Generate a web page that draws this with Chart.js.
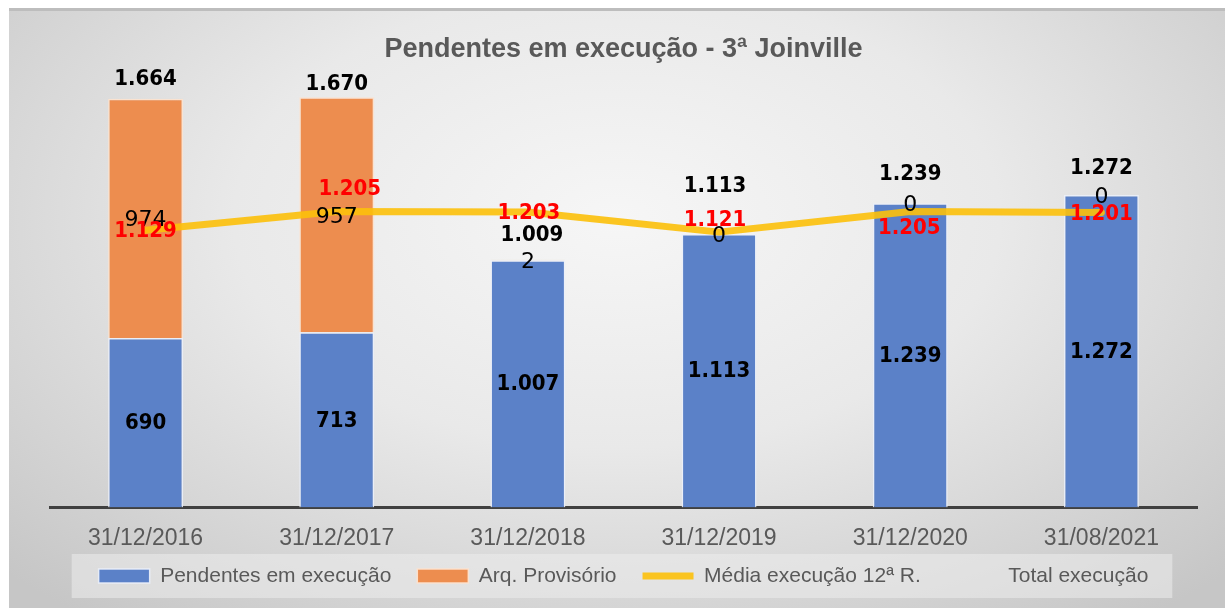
<!DOCTYPE html>
<html>
<head>
<meta charset="utf-8">
<script src="https://cdn.jsdelivr.net/npm/chart.js@4/dist/chart.umd.min.js"></script>
<style>
  html, body { margin: 0; padding: 0; background: #ffffff; width: 1225px; height: 608px; overflow: hidden; }
  #wrap { position: absolute; left: 9px; top: 8px; width: 1216px; height: 600px;
    background: radial-gradient(ellipse 70% 85% at 50% 35%, #f6f6f6 0%, #e9e9e9 45%, #c6c6c6 100%); }
  #band { position: absolute; left: 0; top: 0; width: 1216px; height: 3px; background: #bdbdbd; }
  canvas { position: absolute; left: 0; top: 0; }
</style>
</head>
<body>
<div id="wrap">
  <div id="band"></div>
  <canvas id="c" width="1216" height="600"></canvas>
</div>
<script>
const categories = ['31/12/2016', '31/12/2017', '31/12/2018', '31/12/2019', '31/12/2020', '31/08/2021'];
const pendentes = [690, 713, 1007, 1113, 1239, 1272];
const arqProvisorio = [974, 957, 2, 0, 0, 0];
const mediaExecucao = [1129, 1205, 1203, 1121, 1205, 1201];
const totalExecucao = [1664, 1670, 1009, 1113, 1239, 1272];
const seriesNames = ['Pendentes em execução', 'Arq. Provisório', 'Média execução 12ª R.', 'Total execução'];
const chartTitle = 'Pendentes em execução - 3ª Joinville';

// label placement tweaks (pixels), mimicking manually moved labels of the original
const mediaLabelShift = [[0, 1], [13, -22], [1, 1], [-4, -12], [-1, 17], [0, 2]];
const totalLabelShift = [[0, -20], [0, -13], [4, -24], [-4, -48], [0, -29], [0, -27]];

const fmt = v => v.toLocaleString('pt-BR');
const BOLD_FONT = 'bold 22px "DejaVu Sans Condensed", "DejaVu Sans"';
const REG_FONT = '22px "DejaVu Sans"';

const labelPlugin = {
  id: 'valueLabels',
  afterDatasetsDraw(chart) {
    const ctx = chart.ctx;
    ctx.save();
    ctx.textAlign = 'center';
    ctx.textBaseline = 'middle';
    chart.getDatasetMeta(0).data.forEach((el, i) => {
      ctx.font = BOLD_FONT;
      ctx.fillStyle = '#000000';
      ctx.fillText(fmt(pendentes[i]), el.x, (el.y + el.base) / 2 + 1);
    });
    chart.getDatasetMeta(1).data.forEach((el, i) => {
      ctx.font = REG_FONT;
      ctx.fillStyle = '#000000';
      ctx.fillText(fmt(arqProvisorio[i]), el.x, (el.y + el.base) / 2 + 2);
    });
    chart.getDatasetMeta(3).data.forEach((el, i) => {
      ctx.font = BOLD_FONT;
      ctx.fillStyle = '#000000';
      ctx.fillText(fmt(totalExecucao[i]), el.x + totalLabelShift[i][0], el.y + totalLabelShift[i][1]);
    });
    chart.getDatasetMeta(2).data.forEach((el, i) => {
      ctx.font = BOLD_FONT;
      ctx.fillStyle = '#ff0000';
      ctx.fillText(fmt(mediaExecucao[i]), el.x + mediaLabelShift[i][0], el.y + mediaLabelShift[i][1]);
    });
    ctx.restore();
  }
};

const LEGEND_TOP = 531.5;
const legendBoxPlugin = {
  id: 'legendBox',
  afterLayout(chart) {
    const lg = chart.legend;
    if (lg) { const dy = lg.top - LEGEND_TOP; lg.top -= dy; lg.bottom -= dy; }
  },
  beforeDraw(chart) {
    const lg = chart.legend;
    if (!lg || !lg.legendHitBoxes || !lg.legendHitBoxes.length) return;
    const hb = lg.legendHitBoxes;
    const left = hb[0].left - 27;
    const last = hb[hb.length - 1];
    const right = last.left + last.width + 24;
    const cy = hb[0].top + hb[0].height / 2;
    const ctx = chart.ctx;
    ctx.save();
    ctx.fillStyle = 'rgba(236,236,236,0.55)';
    ctx.fillRect(left, cy - 22, right - left, 44);
    ctx.restore();
  }
};

new Chart(document.getElementById('c'), {
  data: {
    labels: categories,
    datasets: [
      { type: 'bar', label: seriesNames[0], data: pendentes, backgroundColor: '#5b81c8',
        borderColor: 'rgba(235,240,250,0.9)', borderWidth: 1.5, stack: 'bars', order: 2,
        barPercentage: 1, categoryPercentage: 0.392, pointStyle: 'rect' },
      { type: 'bar', label: seriesNames[1], data: arqProvisorio, backgroundColor: '#ed8d4f',
        borderColor: 'rgba(252,225,205,0.95)', borderWidth: 1.5, stack: 'bars', order: 2,
        barPercentage: 1, categoryPercentage: 0.392, pointStyle: 'rect' },
      { type: 'line', label: seriesNames[2], data: mediaExecucao, borderColor: 'rgba(252,192,10,0.9)',
        backgroundColor: 'rgba(252,192,10,0.9)', borderWidth: 7, tension: 0, pointRadius: 0,
        borderCapStyle: 'round', borderJoinStyle: 'round', stack: 'media', order: 1, pointStyle: 'line' },
      { type: 'line', label: seriesNames[3], data: totalExecucao, showLine: false, pointRadius: 0,
        borderColor: 'rgba(0,0,0,0)', backgroundColor: 'rgba(0,0,0,0)', borderWidth: 0,
        stack: 'total', order: 0, pointStyle: 'line' }
    ]
  },
  options: {
    responsive: false,
    animation: false,
    layout: { padding: { left: 41, right: 28, top: 0, bottom: -18 } },
    scales: {
      x: {
        stacked: true,
        offset: true,
        grid: { display: false, drawTicks: false },
        border: { display: true, color: '#404040', width: 3 },
        ticks: { color: '#595959', font: { family: '"Liberation Sans"', size: 23 }, padding: 17, maxRotation: 0 }
      },
      y: {
        stacked: true,
        display: false,
        min: 0,
        max: 1800
      }
    },
    plugins: {
      title: {
        display: true,
        text: chartTitle,
        color: '#595959',
        font: { family: '"Liberation Sans"', size: 27, weight: 'bold' },
        padding: { top: 25, bottom: 0 }
      },
      legend: {
        display: true,
        position: 'bottom',
        labels: {
          color: '#595959',
          font: { family: '"Liberation Sans"', size: 21 },
          usePointStyle: true,
          pointStyleWidth: 51,
          boxHeight: 14,
          padding: 26,
          sort: (a, b) => a.datasetIndex - b.datasetIndex
        }
      },
      tooltip: { enabled: false }
    }
  },
  plugins: [labelPlugin, legendBoxPlugin]
});
</script>
</body>
</html>
